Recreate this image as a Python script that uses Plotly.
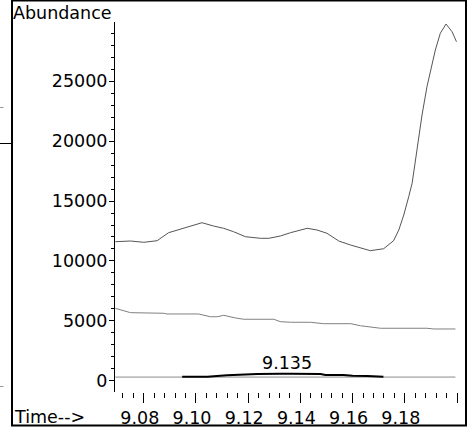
import plotly.graph_objects as go

# ---- data ----
tic_time = [9.0691, 9.0749, 9.0800, 9.0851, 9.0895, 9.0940, 9.0978, 9.1023, 9.1067, 9.1106,
            9.1144, 9.1189, 9.1247, 9.1279, 9.1323, 9.1362, 9.1426, 9.1464, 9.1502, 9.1547,
            9.1592, 9.1617, 9.1668, 9.1719, 9.1757, 9.1777, 9.1796, 9.1815, 9.1828, 9.1841,
            9.1853, 9.1866, 9.1885, 9.1905, 9.1917, 9.1936, 9.1958, 9.1981, 9.1998]
tic_abund = [11607, 11665, 11557, 11690, 12357, 12641, 12916, 13191, 12916, 12724,
             12441, 12024, 11890, 11890, 12082, 12357, 12724, 12582, 12307, 11665,
             11332, 11190, 10857, 11023, 11690, 12582, 13833, 15359, 16476, 18419,
             20229, 22171, 24531, 26616, 27591, 28984, 29759, 29117, 28283]

mid_time = [9.0691, 9.0749, 9.0876, 9.0889, 9.1010, 9.1055, 9.1081, 9.1106, 9.1151, 9.1183,
            9.1298, 9.1323, 9.1362, 9.1438, 9.1489, 9.1593, 9.1630, 9.1707, 9.1885, 9.1911,
            9.1994]
mid_abund = [6050, 5690, 5640, 5580, 5580, 5350, 5350, 5470, 5250, 5140,
             5140, 4940, 4890, 4890, 4770, 4770, 4600, 4390, 4390, 4330,
             4330]

base_time = [9.0691, 9.1000, 9.1500, 9.1994]
base_abund = [320, 320, 320, 320]

peak_time = [9.0947, 9.1043, 9.1119, 9.1170, 9.1235, 9.1323, 9.1346, 9.1362, 9.1477, 9.1496,
             9.1565, 9.1600, 9.1657, 9.1718]
peak_abund = [340, 350, 467, 534, 575, 600, 634, 600, 575, 492,
              492, 434, 409, 340]

peak_label_time = 9.135
peak_label = "9.135"

x_tickvals = [9.08, 9.10, 9.12, 9.14, 9.16, 9.18, 9.20]
x_ticktext = ["9.08", "9.10", "9.12", "9.14", "9.16", "9.18", ""]
y_tickvals = [0, 5000, 10000, 15000, 20000, 25000]
y_ticktext = ["0", "5000", "10000", "15000", "20000", "25000"]

FONT = "DejaVu Sans"
FS = 17.5

fig = go.Figure()
fig.add_trace(go.Scatter(x=base_time, y=base_abund, mode="lines",
                         line=dict(color="#8a8a8a", width=1), hoverinfo="skip"))
fig.add_trace(go.Scatter(x=peak_time, y=peak_abund, mode="lines",
                         line=dict(color="#000000", width=2), hoverinfo="skip"))
fig.add_trace(go.Scatter(x=mid_time, y=mid_abund, mode="lines",
                         line=dict(color="#808080", width=1), hoverinfo="skip"))
fig.add_trace(go.Scatter(x=tic_time, y=tic_abund, mode="lines",
                         line=dict(color="#555555", width=1), hoverinfo="skip"))

fig.add_annotation(x=peak_label_time, y=1518, text=peak_label, showarrow=False,
                   xanchor="center", yanchor="middle",
                   font=dict(family=FONT, size=FS, color="black"))

# plot area: x 115..457, y 22..392 (pixels)
def px(xp):
    return (xp - 115) / 342.0

def py(yp):
    return (392 - yp) / 370.0

fig.add_annotation(xref="paper", yref="paper", x=px(11), y=py(13.5), text="Abundance",
                   showarrow=False, xanchor="left", yanchor="middle",
                   font=dict(family=FONT, size=FS, color="black"))
fig.add_annotation(xref="paper", yref="paper", x=px(11.5), y=py(417), text="Time-->",
                   showarrow=False, xanchor="left", yanchor="middle",
                   font=dict(family=FONT, size=FS, color="black"))

# window frame
fig.add_shape(type="rect", xref="paper", yref="paper",
              x0=px(12), x1=px(466), y0=py(425.5), y1=py(0.5),
              line=dict(color="black", width=2), fillcolor="rgba(0,0,0,0)", layer="above")
# small stray marks at far left
fig.add_shape(type="line", xref="paper", yref="paper", x0=px(0), x1=px(11), y0=py(143.5), y1=py(143.5),
              line=dict(color="black", width=1))
fig.add_shape(type="line", xref="paper", yref="paper", x0=px(0), x1=px(3.5), y0=py(107.5), y1=py(107.5),
              line=dict(color="#999999", width=1))
fig.add_shape(type="line", xref="paper", yref="paper", x0=px(0), x1=px(3.5), y0=py(386.5), y1=py(386.5),
              line=dict(color="#999999", width=1))

fig.update_layout(
    template="none",
    width=469, height=427,
    margin=dict(l=115, r=12, t=22, b=35, pad=0, autoexpand=False),
    paper_bgcolor="white", plot_bgcolor="white",
    showlegend=False,
    font=dict(family=FONT, size=FS, color="black"),
    xaxis=dict(range=[9.06897, 9.20], showgrid=False, zeroline=False, showline=False,
               automargin=False,
               tickmode="array", tickvals=x_tickvals, ticktext=x_ticktext,
               ticks="outside", ticklen=10, tickwidth=1, tickcolor="black",
               ticklabelshift=-4, ticklabelstandoff=0,
               minor=dict(dtick=0.004, tick0=9.08, ticks="outside", ticklen=5,
                          tickwidth=1, tickcolor="black", showgrid=False),
               tickfont=dict(family=FONT, size=FS, color="black")),
    yaxis=dict(range=[-925, 29926], showgrid=False, zeroline=False,
               automargin=False,
               showline=True, linecolor="black", linewidth=1,
               tickmode="array", tickvals=y_tickvals, ticktext=y_ticktext,
               ticks="outside", ticklen=5, tickwidth=1, tickcolor="black",
               ticklabelstandoff=-2,
               minor=dict(dtick=1000, tick0=0, ticks="outside", ticklen=3,
                          tickwidth=1, tickcolor="black", showgrid=False),
               tickfont=dict(family=FONT, size=FS, color="black")),
)

fig.write_html("out.html",
               config={"displayModeBar": False, "staticPlot": True},
               post_script="document.body.style.margin='0';document.body.style.overflow='hidden';")
